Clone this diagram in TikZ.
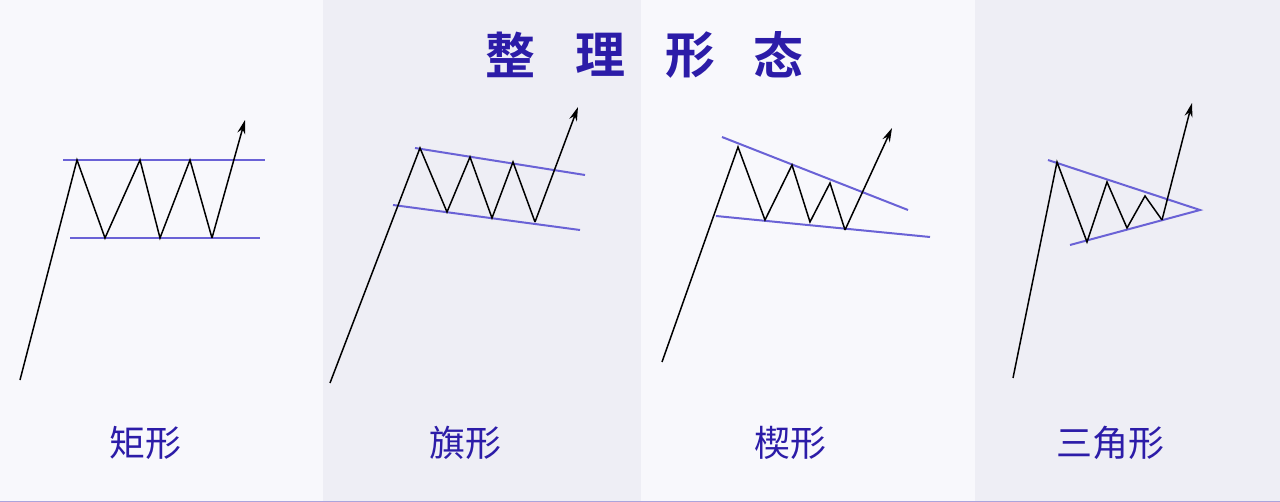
\documentclass[tikz,border=0pt]{standalone}
\usepackage{fontspec}
\newfontfamily\cjk{Noto Sans CJK SC}
\newfontfamily\cjkb{Noto Sans CJK SC Bold}
\usetikzlibrary{arrows.meta}
\definecolor{bgA}{HTML}{F8F8FC}
\definecolor{bgB}{HTML}{EEEEF5}
\definecolor{bl}{HTML}{6A62D6}
\definecolor{tx}{HTML}{2C1CA8}
\begin{document}
\begin{tikzpicture}[x=0.5pt,y=-0.5pt,
  bound/.style={bl,line width=1pt},
  price/.style={black,line width=0.75pt,line join=miter},
  up/.style={black,line width=0.75pt,-{Stealth[length=7pt,width=4pt]}},
  lab/.style={text=tx,font=\cjk\fontsize{18}{18}\selectfont},
  ttl/.style={text=tx,font=\cjkb\fontsize{25}{25}\selectfont}]
\useasboundingbox (0,0) rectangle (1280,502);
\fill[bgA] (0,0) rectangle (323,502);
\fill[bgB] (323,0) rectangle (641,502);
\fill[bgA] (641,0) rectangle (975,502);
\fill[bgB] (975,0) rectangle (1280,502);
\draw[tx!40,line width=0.5pt] (0,501.5) -- (1280,501.5);
% title
\node (t1) [ttl] at (510,55) {整};
\node (t2) [ttl] at (600,55) {理};
\node (t3) [ttl] at (690,55) {形};
\node (t4) [ttl] at (778,55) {态};
% panel 1
\draw[bound] (63,160) -- (265,160);
\draw[bound] (70,238) -- (260,238);
\draw[price] (20,380) -- (77,160) -- (105,238) -- (140,160) -- (160,238) -- (190,160) -- (212,238);
\draw[up] (212,238) -- (245,120);
\node[lab] (l1) at (145,443) {矩形};
% panel 2
\draw[bound] (415,148) -- (585,175);
\draw[bound] (393,205) -- (580,230);
\draw[price] (330,383) -- (420,148) -- (447,212) -- (470,157) -- (492,218) -- (513,162) -- (535,222);
\draw[up] (535,222) -- (578,107);
\node[lab] (l2) at (465,443) {旗形};
% panel 3
\draw[bound] (722,137) -- (908,210);
\draw[bound] (716,216) -- (930,237);
\draw[price] (662,362) -- (738,147) -- (765,220) -- (792,165) -- (810,222) -- (830,183) -- (845,230);
\draw[up] (845,230) -- (892,128);
\node[lab] (l3) at (790,443) {楔形};
% panel 4
\draw[bound] (1048,160) -- (1200,210) -- (1070,245);
\draw[price] (1013,378) -- (1057,162) -- (1087,242) -- (1107,182) -- (1127,228) -- (1145,196) -- (1162,220);
\draw[up] (1162,220) -- (1192,103);
\node[lab] (l4) at (1110,443) {三角形};
\end{tikzpicture}
\end{document}
